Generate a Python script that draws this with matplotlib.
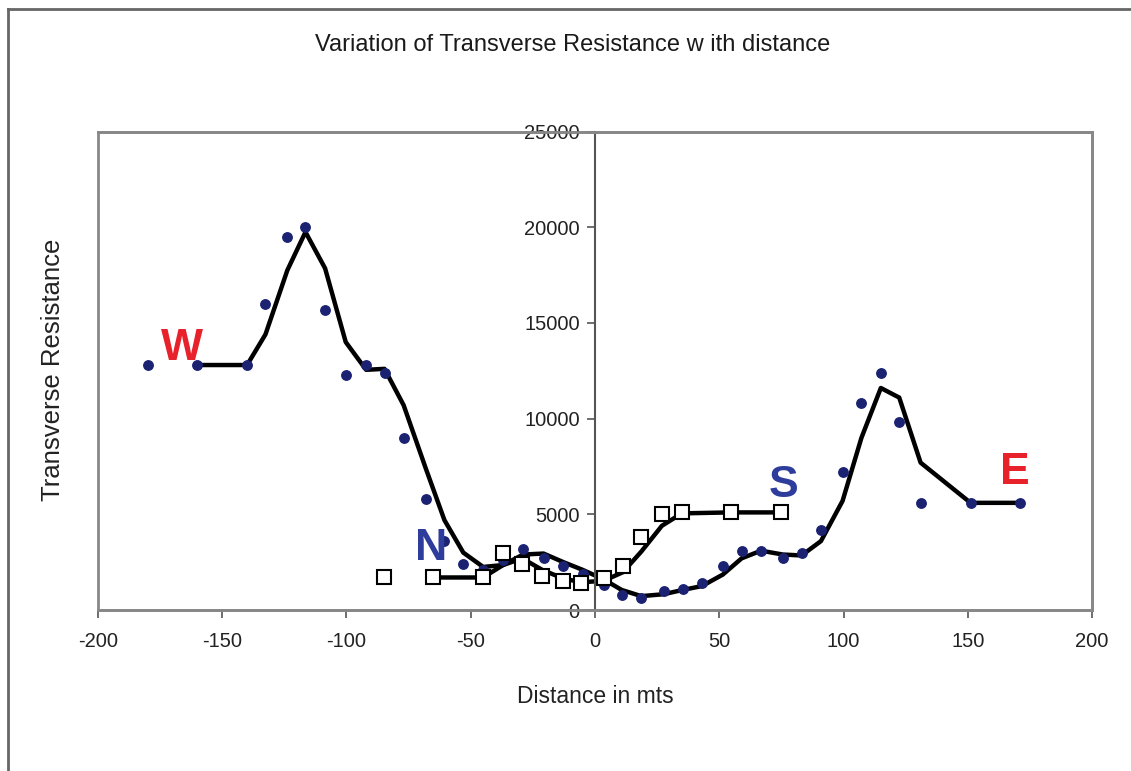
import matplotlib
matplotlib.use("Agg")
import matplotlib.pyplot as plt
import pandas as pd
from matplotlib.patches import Rectangle
from matplotlib.lines import Line2D

plt.rcParams['font.family'] = ['Liberation Sans', 'DejaVu Sans']
plt.rcParams['axes.unicode_minus'] = False

# W-E profile (dots)
we_dist = [-180, -160, -140, -132.6, -123.8, -116.5, -108.6, -100.3, -92.1, -84.7,
           -77, -68.1, -60.6, -53, -45, -37, -28.9, -20.7, -12.7, -5, 3.5, 10.7,
           18.6, 27.6, 35.3, 43, 51.4, 59, 66.8, 75.5, 83.1, 90.9, 99.6, 107.2,
           115, 122.4, 131, 151.1, 170.9]
we_tr = [12800, 12800, 12800, 16000, 19500, 20000, 15700, 12300, 12800, 12400,
         9000, 5800, 3600, 2400, 2100, 2600, 3200, 2700, 2300, 1900, 1300, 800,
         650, 1000, 1100, 1400, 2300, 3100, 3100, 2700, 3000, 4200, 7200, 10800,
         12400, 9800, 5600, 5600, 5600]

# N-S profile (squares)
ns_dist = [-85, -65, -45, -37, -29.3, -21.3, -12.9, -5.5, 3.5, 11.2, 18.6, 26.9,
           34.9, 54.7, 74.8]
ns_tr = [1700, 1700, 1700, 3000, 2400, 1800, 1500, 1400, 1650, 2300, 3800, 5000,
         5100, 5100, 5100]

# profile end labels
end_labels = [("W", -166, 12600, "#E8222A"), ("N", -66, 2150, "#2E3D9C"),
              ("S", 76, 5450, "#2E3D9C"), ("E", 169, 6100, "#E8222A")]

fig = plt.figure(figsize=(11.31, 7.71), dpi=100)
ax = fig.add_axes([0.0866, 0.2088, 0.879, 0.6206])

# 2-point moving average trendlines
we_ma = pd.Series(we_tr).rolling(2).mean()
ns_ma = pd.Series(ns_tr).rolling(2).mean()
ax.plot(we_dist, we_ma, color="black", lw=3.2, zorder=2)
ax.plot(ns_dist, ns_ma, color="black", lw=3.2, zorder=2)

ax.plot(we_dist, we_tr, "o", color="#1B2272", ms=6.8, zorder=3)
ax.plot(ns_dist, ns_tr, "s", mfc="white", mec="black", mew=1.5, ms=9.5, zorder=4)

for txt, x, y, c in end_labels:
    ax.text(x, y, txt, color=c, fontsize=32, fontweight="bold",
            ha="center", va="bottom", zorder=5)

ax.set_xlim(-200, 200)
ax.set_ylim(0, 25000)
ax.set_xticks(range(-200, 201, 50))
ax.set_yticks(range(0, 25001, 5000))

ax.spines['left'].set_position(('data', 0))
ax.spines['left'].set_color("#555555")
ax.spines['left'].set_linewidth(1.5)
for s in ['top', 'right', 'bottom']:
    ax.spines[s].set_color("#888888")
    ax.spines[s].set_linewidth(2)
ax.add_patch(Rectangle((0, 0), 1, 1, transform=ax.transAxes, fill=False,
                       edgecolor="#888888", lw=2, clip_on=False, zorder=1))

ax.tick_params(axis='both', direction='out', length=6, width=1.2,
               color="#555555", labelsize=14.5, labelcolor="#222222")
ax.tick_params(axis='x', pad=10)
ax.tick_params(axis='y', pad=5)

ax.set_xlabel("Distance in mts", fontsize=16.5, color="#222222", labelpad=24)
fig.text(0.047, 0.52, "Transverse Resistance", rotation=90, fontsize=18.5,
         color="#222222", ha="center", va="center")
fig.text(0.506, 0.941, "Variation of Transverse Resistance w ith distance",
         fontsize=17, color="#1A1A1A", ha="center", va="center")

# outer chart border
fig.add_artist(Line2D([0.007, 1.0], [0.988, 0.988], color="#666666", lw=2,
                      transform=fig.transFigure))
fig.add_artist(Line2D([0.007, 0.007], [0.0, 0.988], color="#666666", lw=2,
                      transform=fig.transFigure))

fig.savefig("out.png", dpi=100)
